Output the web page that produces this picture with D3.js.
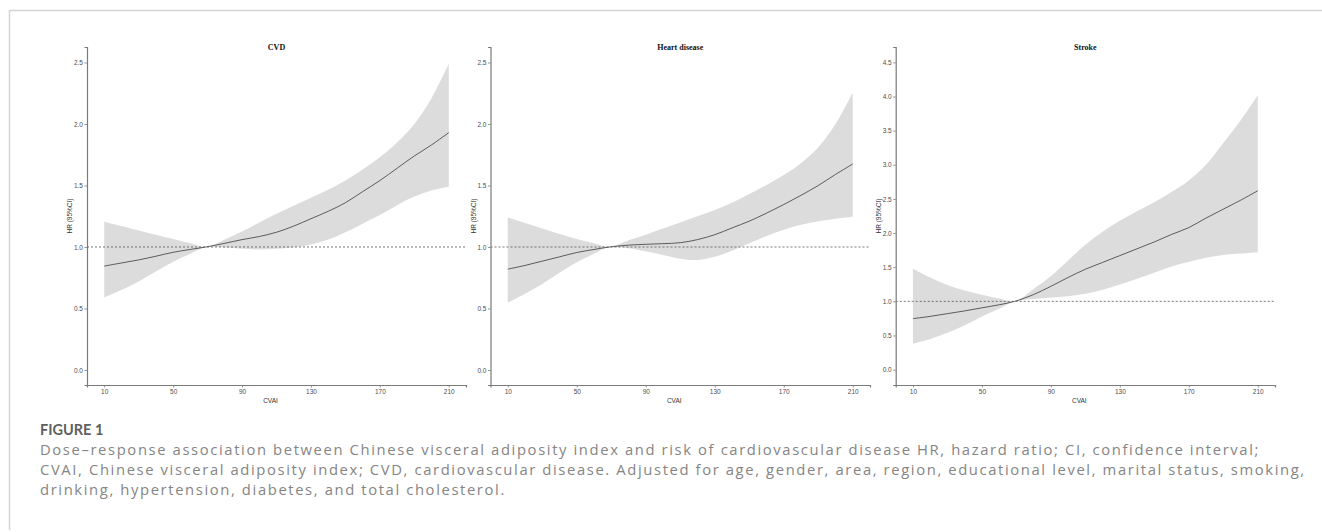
<!DOCTYPE html>
<html>
<head>
<meta charset="utf-8">
<script src="https://cdn.jsdelivr.net/npm/d3@7"></script>
<style>
  body { margin: 0; background: #fff; }
  svg { display: block; }
</style>
</head>
<body>
<script>
// CVAI grid (x positions, 69 = reference point)
const cvai = [10, 20, 30, 40, 50, 60, 69, 80, 90, 100, 110, 120, 130, 140, 150, 160, 170, 180, 190, 200, 210];

const cvdHR    = [0.845, 0.87, 0.895, 0.925, 0.957, 0.98, 1.0, 1.03, 1.06, 1.085, 1.12, 1.17, 1.23, 1.29, 1.36, 1.45, 1.54, 1.64, 1.74, 1.83, 1.93];
const cvdLow   = [0.59, 0.65, 0.72, 0.80, 0.88, 0.945, 1.0, 0.995, 0.985, 0.98, 0.985, 0.995, 1.02, 1.06, 1.12, 1.19, 1.26, 1.34, 1.41, 1.46, 1.49];
const cvdUp    = [1.206, 1.17, 1.135, 1.10, 1.065, 1.03, 1.0, 1.06, 1.125, 1.2, 1.27, 1.335, 1.40, 1.465, 1.54, 1.63, 1.73, 1.85, 2.0, 2.21, 2.49];

const heartHR  = [0.82, 0.85, 0.885, 0.92, 0.955, 0.98, 1.0, 1.015, 1.022, 1.027, 1.035, 1.06, 1.10, 1.155, 1.21, 1.275, 1.345, 1.42, 1.5, 1.59, 1.675];
const heartLow = [0.547, 0.62, 0.70, 0.79, 0.875, 0.945, 1.0, 0.99, 0.965, 0.935, 0.905, 0.895, 0.92, 0.97, 1.03, 1.09, 1.14, 1.18, 1.21, 1.23, 1.246];
const heartUp  = [1.24, 1.195, 1.15, 1.105, 1.065, 1.03, 1.0, 1.055, 1.1, 1.15, 1.2, 1.25, 1.3, 1.36, 1.43, 1.505, 1.585, 1.68, 1.81, 2.0, 2.255];

const strokeHR  = [0.747, 0.78, 0.82, 0.86, 0.905, 0.95, 1.0, 1.1, 1.22, 1.35, 1.47, 1.57, 1.67, 1.77, 1.87, 1.98, 2.08, 2.22, 2.35, 2.48, 2.62];
const strokeLow = [0.38, 0.45, 0.54, 0.65, 0.78, 0.89, 1.0, 1.035, 1.055, 1.075, 1.11, 1.17, 1.245, 1.33, 1.42, 1.51, 1.58, 1.64, 1.68, 1.70, 1.72];
const strokeUp  = [1.479, 1.35, 1.24, 1.16, 1.095, 1.04, 1.0, 1.18, 1.37, 1.6, 1.83, 2.02, 2.18, 2.32, 2.45, 2.6, 2.77, 3.0, 3.32, 3.65, 4.02];

const titles = ["CVD", "Heart disease", "Stroke"];
const xTicks = [10, 50, 90, 130, 170, 210];
const yTicksSmall = [0, 0.5, 1.0, 1.5, 2.0, 2.5];
const yTicksBig = [0, 0.5, 1.0, 1.5, 2.0, 2.5, 3.0, 3.5, 4.0, 4.5];

const captionHead = "FIGURE 1";
const captionLines = [
  "Dose\u2013response association between Chinese visceral adiposity index and risk of cardiovascular disease HR, hazard ratio; CI, confidence interval;",
  "CVAI, Chinese visceral adiposity index; CVD, cardiovascular disease. Adjusted for age, gender, area, region, educational level, marital status, smoking,",
  "drinking, hypertension, diabetes, and total cholesterol."
];

const W = 1322, H = 532;
const svg = d3.select("body").append("svg").attr("width", W).attr("height", H);

// frame (top + left rules)
svg.append("line").attr("x1", 9.5).attr("x2", W).attr("y1", 10.5).attr("y2", 10.5)
  .attr("stroke", "#d4d4d4").attr("stroke-width", 1.5);
svg.append("line").attr("x1", 9.5).attr("x2", 9.5).attr("y1", 10).attr("y2", 530)
  .attr("stroke", "#d4d4d4").attr("stroke-width", 1.5);

const panels = [
  {title: titles[0], hr: cvdHR, lo: cvdLow, up: cvdUp, left: 87, right: 466, yDom: [-0.122, 2.626], yt: yTicksSmall},
  {title: titles[1], hr: heartHR, lo: heartLow, up: heartUp, left: 490.5, right: 870, yDom: [-0.122, 2.626], yt: yTicksSmall},
  {title: titles[2], hr: strokeHR, lo: strokeLow, up: strokeUp, left: 895.7, right: 1275, yDom: [-0.225, 4.725], yt: yTicksBig}
];
const plotTop = 47, plotBottom = 385;
const axisCol = "#7a7a7a", tickTxt = "#4d4d4d";
const curve = d3.curveCatmullRom.alpha(0.5);

panels.forEach(function (p) {
  const x = d3.scaleLinear().domain([0, 220]).range([p.left, p.right]);
  const y = d3.scaleLinear().domain(p.yDom).range([plotBottom, plotTop]);
  const g = svg.append("g");
  const rows = cvai.map((c, i) => ({x: c, hr: p.hr[i], lo: p.lo[i], up: p.up[i]}));

  g.append("path").datum(rows)
    .attr("fill", "#dcdcdc")
    .attr("d", d3.area().curve(curve)
      .x(d => x(d.x)).y0(d => y(d.lo)).y1(d => y(d.up)));

  g.append("path").datum(rows)
    .attr("fill", "none").attr("stroke", "#3a3a3a").attr("stroke-width", 0.8)
    .attr("d", d3.line().curve(curve).x(d => x(d.x)).y(d => y(d.hr)));

  // reference line at HR = 1
  g.append("line")
    .attr("x1", p.left).attr("x2", p.right).attr("y1", y(1)).attr("y2", y(1))
    .attr("stroke", "#555").attr("stroke-width", 0.8).attr("stroke-dasharray", "2,2");

  const xAxis = g.append("g").attr("transform", "translate(0," + plotBottom + ")")
    .call(d3.axisBottom(x).tickValues(xTicks).tickSize(2.5).tickPadding(2));
  const yAxis = g.append("g").attr("transform", "translate(" + p.left + ",0)")
    .call(d3.axisLeft(y).tickValues(p.yt).tickSize(2.5).tickPadding(1.5).tickFormat(d3.format(".1f")));

  [xAxis, yAxis].forEach(function (a) {
    a.select(".domain").attr("stroke", axisCol).attr("stroke-width", 1.2);
    a.selectAll(".tick line").attr("stroke", axisCol).attr("stroke-width", 0.8);
    a.selectAll(".tick text").attr("fill", tickTxt)
      .style("font-family", "'Liberation Sans', Arial, sans-serif").style("font-size", "6.5px");
  });

  g.append("text")
    .attr("x", (p.left + p.right) / 2).attr("y", 50)
    .attr("text-anchor", "middle")
    .style("font-family", "'Liberation Serif', 'Times New Roman', serif")
    .style("font-weight", "bold").style("font-size", "8px").attr("fill", "#111")
    .text(p.title);

  g.append("text")
    .attr("x", (p.left + p.right) / 2 - 6).attr("y", 403)
    .attr("text-anchor", "middle")
    .style("font-family", "'Liberation Sans', Arial, sans-serif").style("font-size", "6.5px")
    .attr("fill", "#333")
    .text("CVAI");

  g.append("text")
    .attr("transform", "translate(" + (p.left - 15) + "," + ((plotTop + plotBottom) / 2) + ") rotate(-90)")
    .attr("text-anchor", "middle")
    .style("font-family", "'Liberation Sans', Arial, sans-serif").style("font-size", "6.5px")
    .attr("fill", "#333")
    .text("HR (95%CI)");
});

// caption
svg.append("text").attr("x", 40).attr("y", 435)
  .style("font-family", "Lato, sans-serif").style("font-weight", 700)
  .style("font-size", "14.5px").attr("fill", "#5f5f5f")
  .text(captionHead);

const cap = svg.append("g").selectAll("text").data(captionLines).join("text")
  .attr("x", 40).attr("y", (d, i) => 454.5 + i * 20.3)
  .style("font-family", "'Open Sans', sans-serif").style("font-size", "14.8px")
  .attr("fill", "#858585")
  .text(d => d);

// adjust the tracking so the first line ends near x = 1260, as in the reference
const first = cap.nodes()[0];
const spacing = (1220 - first.getComputedTextLength()) / captionLines[0].length;
cap.style("letter-spacing", spacing + "px");
</script>
</body>
</html>
